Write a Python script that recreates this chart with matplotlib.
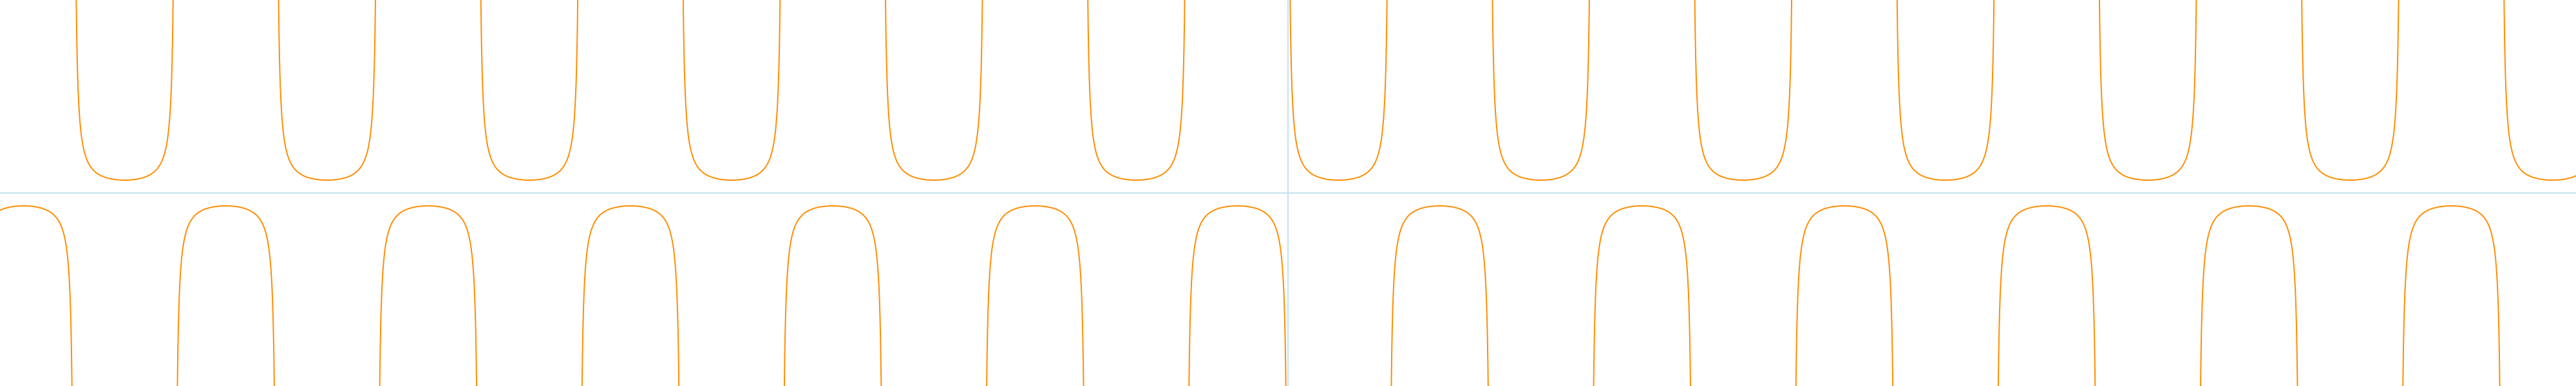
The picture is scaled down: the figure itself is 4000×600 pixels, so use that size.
import numpy as np
import matplotlib
matplotlib.use("Agg")
import matplotlib.pyplot as plt

# plotted function: y = csc(x) = 1 / sin(x)
x_range = [-40, 40]
y_range = [-15, 15]
n_samples = 40001
curve_color = "#ff8c00"
axis_color = "#c6e3ef"

x = np.linspace(x_range[0], x_range[1], n_samples)
y = 1.0 / np.sin(x)
y[np.abs(y) > 16] = np.nan  # break the line at the asymptotes

fig = plt.figure(figsize=(40, 6), dpi=100)
ax = fig.add_axes([0, 0, 1, 1])

ax.axhline(0, color=axis_color, lw=1.5, zorder=1)
ax.axvline(0, color=axis_color, lw=1.5, zorder=1)
ax.plot(x, y, color=curve_color, lw=1.4, zorder=2)

ax.set_xlim(x_range)
ax.set_ylim(y_range)
ax.axis("off")

plt.savefig("out.png", dpi=100, facecolor="white")
